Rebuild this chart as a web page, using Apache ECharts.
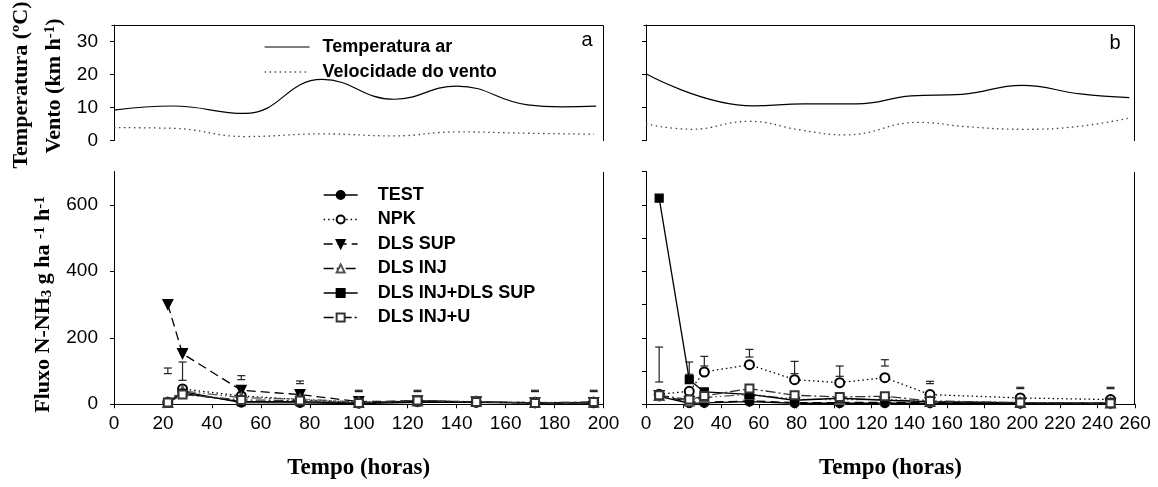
<!DOCTYPE html>
<html><head><meta charset="utf-8">
<script src="https://cdn.jsdelivr.net/npm/echarts@6.0.0/dist/echarts.min.js"></script>
<style>html,body{margin:0;padding:0;background:#fff}#c{width:1158px;height:487px}</style>
</head><body><div id="c"></div>
<script>
// ---------- data ----------
const tempA_t = [0, 24, 53.5, 85, 114.5, 140, 169, 183, 197];
const tempA   = [9.2, 10.45, 8.2, 18.5, 12.5, 16.5, 10.8, 10.2, 10.4];
const windA_t = [0, 24, 53.5, 85, 114.5, 140, 169, 196];
const windA   = [3.9, 3.7, 1.2, 2.0, 1.4, 2.6, 2.2, 1.9];
const tempB_t = [0, 57, 84, 112, 141, 168, 200, 231, 257];
const tempB   = [20.2, 10.5, 11.1, 11.1, 13.5, 14.0, 16.7, 14.1, 13.0];
const windB_t = [0, 24, 55, 82, 106, 145, 170, 200, 229, 257];
const windB   = [5.0, 3.4, 5.8, 3.2, 1.7, 5.5, 4.2, 3.4, 4.2, 6.8];

const timesA  = [22, 28, 52, 76, 100, 124, 148, 172, 196];
const testA   = [5, 38, 5, 4, 2, 6, 6, 4, 4];
const npkA    = [6, 46, 25, 14, 6, 9, 6, 5, 5];
const supA    = [300, 152, 42, 29, 8, 10, 7, 4, 5];
const injA    = [5, 40, 20, 16, 6, 10, 8, 5, 6];
const injSupA = [5, 33, 8, 8, 3, 10, 6, 4, 4];
const injUA   = [5, 29, 13, 11, 4, 11, 7, 4, 7];

const timesB  = [7, 23, 31, 55, 79, 103, 127, 151, 199, 247];
const testB   = [24, 3, 4, 8, 3, 3, 3, 3, 2, 2];
const npkB    = [30, 39, 97, 119, 74, 65, 80, 29, 19, 14];
const supB    = [26, 8, 6, 10, 5, 5, 6, 5, 3, 3];
const injB    = [26, 10, 20, 30, 15, 14, 15, 8, 5, 4];
const injSupB = [620, 74, 37, 30, 12, 18, 12, 8, 4, 3];
const injUB   = [27, 14, 25, 47, 27, 22, 24, 10, 5, 3];

const errA_t  = [22, 28, 52, 76, 100, 124, 172, 196];
const errA_lo = [92, 72, 74, 62, 38, 38, 38, 38];
const errA_hi = [109, 127, 86, 70, 42, 42, 42, 42];
const errB_t  = [7, 23, 31, 55, 79, 103, 127, 151, 199, 247];
const errB_lo = [67, 90, 115, 142, 92, 84, 115, 62, 47, 47];
const errB_hi = [172, 127, 144, 165, 129, 115, 134, 69, 51, 51];

const tickTopY = [0, 10, 20, 30];
const labelBotYA = [0, 200, 400, 600];
const tickBotYB = [0, 100, 200, 300, 400, 500, 600, 700];

// ---------- layout ----------
const GA = {left: 114, width: 489.5};
const GB = {left: 646, width: 489};
const GT = {top: 25, height: 115.5};
const GBt = {top: 171.5, height: 232.75};
const OFF = 3;

const pairs = (xs, ys) => xs.map((x, i) => [x, ys[i]]);
const SANS = 'Liberation Sans', SERIF = 'Liberation Serif';

const treatStyles = [
  {name: 'TEST', symbol: 'circle', size: 9, type: 'solid', color: '#000'},
  {name: 'NPK', symbol: 'emptyCircle', size: 9, type: [1.5, 3], color: '#000'},
  {name: 'DLS SUP', symbol: 'triangle', rot: 180, size: 10, type: [9, 5], color: '#000'},
  {name: 'DLS INJ', symbol: 'emptyTriangle', size: 9, type: [10, 3, 1.5, 3, 1.5, 3], color: '#555'},
  {name: 'DLS INJ+DLS SUP', symbol: 'rect', size: 8, type: 'solid', color: '#000'},
  {name: 'DLS INJ+U', symbol: 'emptyRect', size: 8, type: [10, 3, 2, 3], color: '#333'}
];
const dataA = [testA, npkA, supA, injA, injSupA, injUA];
const dataB = [testB, npkB, supB, injB, injSupB, injUB];

function treatSeries(st, times, vals, xi) {
  return {
    name: st.name, type: 'line', xAxisIndex: xi, yAxisIndex: xi,
    data: pairs(times, vals), symbol: st.symbol, symbolSize: st.size,
    symbolRotate: st.rot || 0, showAllSymbol: true,
    lineStyle: {color: st.color, width: 1.3, type: st.type},
    itemStyle: {color: st.color, borderColor: st.color, borderWidth: 1.2},
    emphasis: {disabled: true}, z: 3
  };
}
function errSeries(t, lo, hi, xi) {
  return {
    type: 'custom', xAxisIndex: xi, yAxisIndex: xi, silent: true, z: 2,
    data: t.map((x, i) => [x, lo[i], hi[i]]),
    encode: {x: 0, y: [1, 2]},
    renderItem: function (params, api) {
      const x = api.value(0);
      const p1 = api.coord([x, api.value(2)]);
      const p2 = api.coord([x, api.value(1)]);
      const w = 4;
      const st = {stroke: '#222', lineWidth: 1.2};
      return {type: 'group', children: [
        {type: 'line', shape: {x1: p1[0], y1: p1[1], x2: p2[0], y2: p2[1]}, style: st},
        {type: 'line', shape: {x1: p1[0] - w, y1: p1[1], x2: p1[0] + w, y2: p1[1]}, style: st},
        {type: 'line', shape: {x1: p2[0] - w, y1: p2[1], x2: p2[0] + w, y2: p2[1]}, style: st}
      ]};
    }
  };
}
function climSeries(name, t, v, xi, dotted) {
  return {
    name: name, type: 'line', xAxisIndex: xi, yAxisIndex: xi,
    data: pairs(t, v), smooth: 0.45, symbol: 'none',
    itemStyle: {color: '#000', opacity: 0},
    lineStyle: dotted ? {color: '#444', width: 1.3, type: [1.5, 3.5]} : {color: '#000', width: 1.2, type: 'solid'},
    emphasis: {disabled: true}
  };
}

const axLine = {show: true, lineStyle: {color: '#000', width: 1}};
const lab = {color: '#000', fontFamily: SANS, fontSize: 19};

const grids = [
  {left: GA.left, width: GA.width, top: GT.top, height: GT.height},
  {left: GA.left, width: GA.width, top: GBt.top, height: GBt.height},
  {left: GB.left, width: GB.width, top: GT.top, height: GT.height},
  {left: GB.left, width: GB.width, top: GBt.top, height: GBt.height}
];
function topX(i, max) {
  return {gridIndex: i, type: 'value', min: 0, max: max, show: false};
}
function botX(i, max) {
  return {gridIndex: i, type: 'value', min: 0, max: max, interval: 20,
    axisLine: axLine, axisTick: {show: true, length: 4, lineStyle: {color: '#000'}},
    axisLabel: Object.assign({margin: 10}, lab), splitLine: {show: false},
    name: 'Tempo (horas)', nameLocation: 'middle', nameGap: 52,
    nameTextStyle: {fontFamily: SERIF, fontWeight: 'bold', fontSize: 23, color: '#000'}};
}
function yAx(i, max, ticks, labels) {
  return {gridIndex: i, type: 'value', min: 0, max: max, offset: OFF,
    axisLine: axLine,
    axisTick: {show: true, length: 4, lineStyle: {color: '#000'}, customValues: ticks},
    axisLabel: labels ? Object.assign({margin: 13, customValues: labels}, lab) : {show: false},
    splitLine: {show: false}};
}

const series = [];
series.push(climSeries('Temperatura ar', tempA_t, tempA, 0, false));
series.push(climSeries('Velocidade do vento', windA_t, windA, 0, true));
series.push(climSeries('Temperatura ar', tempB_t, tempB, 2, false));
series.push(climSeries('Velocidade do vento', windB_t, windB, 2, true));
series.push(errSeries(errA_t, errA_lo, errA_hi, 1));
series.push(errSeries(errB_t, errB_lo, errB_hi, 3));
treatStyles.forEach((st, k) => series.push(treatSeries(st, timesA, dataA[k], 1)));
treatStyles.forEach((st, k) => series.push(treatSeries(st, timesB, dataB[k], 3)));

// frame lines
function hl(x1, x2, y) { return {type: 'line', silent: true, shape: {x1: x1, y1: y, x2: x2, y2: y}, style: {stroke: '#000', lineWidth: 1}}; }
function vl(x, y1, y2) { return {type: 'line', silent: true, shape: {x1: x, y1: y1, x2: x, y2: y2}, style: {stroke: '#000', lineWidth: 1}}; }
const frames = [];
[GA, GB].forEach(g => {
  const xl = Math.round(g.left - OFF) + 0.5, xr = Math.round(g.left + g.width) - 0.5;
  const yt = Math.round(GT.top) + 0.5, yb = Math.round(GT.top + GT.height);
  frames.push(hl(xl, xr, yt));
  frames.push(vl(xr, yt, yb));
  const yt2 = Math.round(GBt.top), yb2 = Math.round(GBt.top + GBt.height) + 0.5;
  frames.push(vl(xr, yt2, yb2));
  frames.push(hl(xl, g.left, yb2));
});

const supStyle = {fontFamily: SERIF, fontWeight: 'bold', fontSize: 15, lineHeight: 15, verticalAlign: 'top', fill: '#000', color: '#000'};
const subStyle = {fontFamily: SERIF, fontWeight: 'bold', fontSize: 15, lineHeight: 15, verticalAlign: 'bottom', fill: '#000', color: '#000'};
const normStyle = {fontFamily: SERIF, fontWeight: 'bold', fontSize: 22, lineHeight: 22, verticalAlign: 'middle', fill: '#000', color: '#000'};
const rich = {n: normStyle, sup: supStyle, sub: subStyle};

function vtext(x, y, text) {
  return {type: 'text', x: x, y: y, rotation: Math.PI / 2, silent: true,
    style: {text: text, rich: rich, align: 'center', verticalAlign: 'middle',
      textAlign: 'center', textVerticalAlign: 'middle', lineHeight: 30,
      font: 'bold 22px ' + SERIF, fill: '#000'}};
}

const graphics = frames.concat([
  {type: 'text', x: 587, y: 40, silent: true, style: {text: 'a', font: '20px ' + SANS, fill: '#000', align: 'center', verticalAlign: 'middle', textAlign: 'center', textVerticalAlign: 'middle'}},
  {type: 'text', x: 1115, y: 43, silent: true, style: {text: 'b', font: '20px ' + SANS, fill: '#000', align: 'center', verticalAlign: 'middle', textAlign: 'center', textVerticalAlign: 'middle'}},
  vtext(21, 85, '{n|Temperatura (ºC)}'),
  vtext(54, 86, '{n|Vento (km h}{sup|-1}{n|)}'),
  vtext(43.5, 304.5, '{n|Fluxo N-NH}{sub|3}{n| g ha }{sup|-1}{n| h}{sup|-1}')
]);

const legText = {fontFamily: SANS, fontWeight: 'bold', fontSize: 18, lineHeight: 18, color: '#000'};

const option = {
  animation: false,
  backgroundColor: '#fff',
  grid: grids,
  xAxis: [topX(0, 200), botX(1, 200), topX(2, 260), botX(3, 260)],
  yAxis: [yAx(0, 35, tickTopY, tickTopY), yAx(1, 700, labelBotYA, labelBotYA),
          yAx(2, 35, tickTopY, null), yAx(3, 700, tickBotYB, null)],
  legend: [
    {data: ['Temperatura ar', 'Velocidade do vento'], orient: 'vertical', left: 259, top: 33,
     itemWidth: 45, itemHeight: 12, itemGap: 7, selectedMode: false,
     itemStyle: {opacity: 0}, lineStyle: {width: 1.2, color: '#000'},
     textStyle: Object.assign({padding: [0, 0, 0, 8]}, legText)},
    {data: treatStyles.map(s => s.name), orient: 'vertical', left: 318, top: 181,
     itemWidth: 34, itemHeight: 10, itemGap: 6.5, selectedMode: false,
     lineStyle: {width: 1.3, color: '#000'},
     textStyle: Object.assign({padding: [0, 0, 0, 15]}, legText)}
  ],
  graphic: graphics,
  series: series
};
const chart = echarts.init(document.getElementById('c'), null, {renderer: 'canvas'});
chart.setOption(option);
</script></body></html>
